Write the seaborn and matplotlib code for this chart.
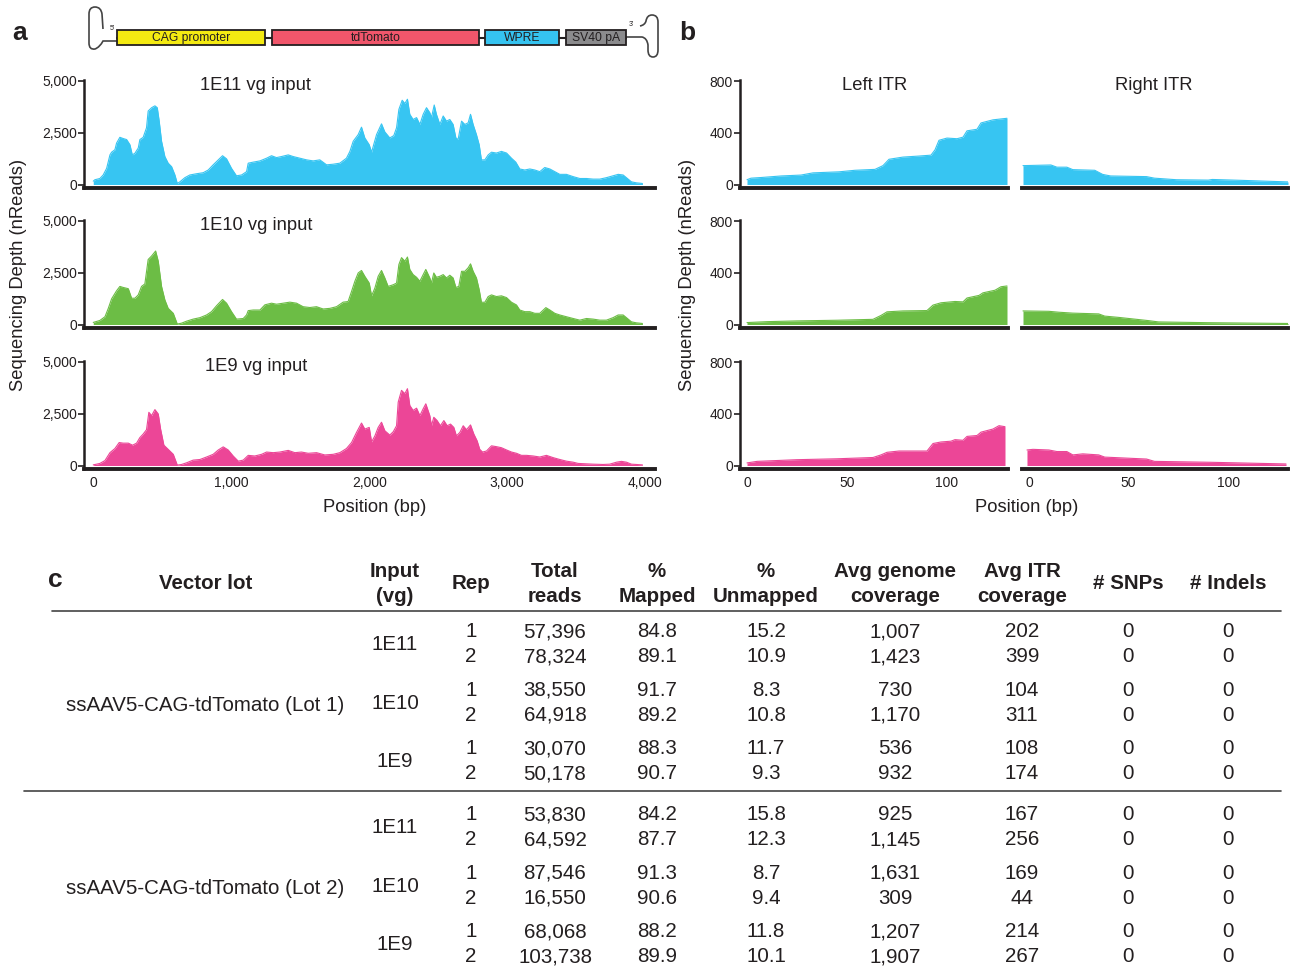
import seaborn as sns
import numpy as np
import pandas as pd
import matplotlib.pyplot as plt
from matplotlib.patches import Rectangle, PathPatch
from matplotlib.path import Path
from matplotlib.ticker import FuncFormatter

sns.set_style("white")
plt.rcParams['font.family'] = ['Liberation Sans', 'DejaVu Sans']

INK = '#231F20'
colors = ['#37C5F2', '#6CBD45', '#EC4697']
inputs = ['1E11', '1E10', '1E9']

# ---- panel a: genome coverage (position bp, depth reads) ----
pos_1e11 = [0, 12, 48, 72, 97, 121, 133, 157, 169, 193, 217, 242, 266, 283, 302, 326, 338, 362, 386, 398,
            423, 447, 464, 478, 495, 519, 543, 568, 592, 609, 628, 664, 700, 749, 797, 833, 869, 906, 937, 966,
            1002, 1038, 1075, 1111, 1123, 1159, 1208, 1256, 1292, 1328, 1364, 1413, 1449, 1497, 1546, 1594,
            1642, 1691, 1739, 1787, 1835, 1860, 1884, 1920, 1944, 1968, 2000,
            2017, 2053, 2089, 2113, 2149, 2178, 2198, 2215, 2239, 2258, 2277, 2294, 2318, 2343, 2367, 2391,
            2415, 2439, 2451, 2471, 2487, 2512, 2536, 2560, 2584, 2608, 2628, 2644, 2669, 2693, 2717, 2734,
            2753, 2777, 2797, 2813, 2838, 2862, 2886, 2922, 2958, 2995, 3031, 3062, 3091, 3127, 3164, 3200,
            3236, 3272, 3309, 3345, 3381, 3429, 3478, 3526, 3574, 3623, 3671, 3719, 3767, 3804, 3840, 3864,
            3900, 3936, 3980]
depth_1e11 = [160, 230, 290, 460, 780, 1430, 1560, 1680, 2000, 2280, 2220, 2170, 1920, 1430, 1510, 1760, 2170,
              2280, 2740, 3550, 3710, 3800, 3710, 3060, 2090, 1350, 1030, 860, 460, 50, 130, 330, 460, 520,
              570, 700, 950, 1190, 1390, 1240, 780, 420, 460, 620, 1030, 1080, 1140, 1270, 1390, 1300, 1350,
              1430, 1350, 1270, 1190, 1140, 1190, 950, 980, 1030, 1270, 1600, 2090, 2410, 2770, 2250, 1920,
              1560, 2410, 2930, 2540, 2250, 2360, 2740, 3630, 4070, 3910, 4120, 3390, 3140, 3230, 2900, 3390,
              3710, 3470, 3230, 3840, 3390, 2900, 3310, 3060, 3140, 2900, 2250, 2170, 3060, 2900, 2980, 3390,
              2900, 2410, 1920, 1190, 1190, 1430, 1560, 1520, 1600, 1520, 1270, 1080, 750, 700, 750, 700,
              620, 820, 750, 620, 490, 490, 380, 290, 290, 260, 260, 330, 420, 490, 460, 330,
              130, 80, 50]

pos_1e10 = [0, 48, 85, 109, 133, 169, 193, 217, 254, 278, 302, 326, 350, 374, 398, 423, 452, 471, 495, 519,
            543, 580, 609, 640, 676, 724, 773, 821, 857, 894, 937, 966, 1002, 1038, 1087, 1111, 1123, 1159,
            1208, 1244, 1292, 1328, 1377, 1425, 1473, 1521, 1570, 1618, 1666, 1715, 1763, 1811, 1847, 1872,
            1896, 1920, 1944, 1968, 2000,
            2017, 2041, 2065, 2089, 2113, 2137, 2174, 2198, 2215, 2234, 2258, 2277, 2294, 2318, 2343, 2367,
            2391, 2410, 2439, 2451, 2468, 2487, 2512, 2536, 2560, 2584, 2608, 2628, 2649, 2669, 2693, 2717,
            2734, 2753, 2777, 2797, 2813, 2838, 2862, 2886, 2922, 2958, 2995, 3031, 3067, 3091, 3127, 3164,
            3200, 3236, 3280, 3309, 3345, 3381, 3429, 3478, 3526, 3574, 3623, 3671, 3719, 3767, 3804, 3840,
            3864, 3900, 3936, 3980]
depth_1e10 = [100, 195, 375, 780, 1240, 1630, 1840, 1790, 1730, 1270, 1270, 1430, 1840, 1960, 3140, 3310,
              3550, 3060, 1840, 1190, 780, 540, 20, 65, 160, 260, 330, 460, 620, 910, 1210, 1030, 620, 260,
              290, 460, 670, 700, 700, 950, 1030, 980, 1030, 1080, 1030, 860, 820, 860, 750, 780, 860, 1080,
              1110, 1600, 2090, 2490, 2610, 2330, 2000,
              1385, 1760, 2330, 2610, 2250, 1840, 1920, 2000, 2900, 3230, 3060, 3260, 2660, 2410, 2280, 2090,
              2410, 2660, 2250, 2000, 2490, 2280, 2330, 2410, 2250, 2380, 2250, 1790, 1840, 2570, 2570, 2740,
              2930, 2570, 2250, 1680, 1075, 1075, 1350, 1430, 1350, 1385, 1300, 1075, 945, 700, 620, 620,
              540, 540, 815, 700, 540, 460, 375, 290, 210, 290, 260, 210, 210, 330, 460, 460,
              330, 130, 80, 50]

pos_1e9 = [0, 48, 85, 121, 157, 188, 217, 254, 285, 314, 338, 362, 386, 403, 423, 447, 471, 488, 512, 543,
           580, 609, 640, 676, 724, 773, 821, 869, 906, 942, 978, 1014, 1051, 1087, 1123, 1171, 1220, 1256,
           1304, 1352, 1413, 1461, 1509, 1558, 1618, 1678, 1739, 1787, 1835, 1872, 1908, 1944, 1968, 2000,
           2017, 2041, 2065, 2089, 2113, 2149, 2174, 2198, 2210, 2234, 2258, 2277, 2294, 2318, 2343, 2367,
           2391, 2410, 2439, 2451, 2468, 2492, 2516, 2541, 2565, 2589, 2613, 2632, 2657, 2681, 2705, 2734,
           2758, 2782, 2801, 2821, 2850, 2886, 2922, 2958, 2995, 3031, 3067, 3103, 3140, 3188, 3236, 3284,
           3333, 3381, 3429, 3478, 3514, 3574, 3623, 3695, 3743, 3792, 3828, 3864, 3900, 3980]
depth_1e9 = [30, 100, 240, 620, 820, 1110, 1080, 1080, 980, 1080, 1350, 1520, 1730, 2570, 2410, 2700, 2490,
             1760, 980, 780, 540, 20, 50, 130, 260, 290, 410, 540, 750, 900, 750, 460, 210, 260, 490, 460,
             540, 650, 620, 650, 730, 620, 650, 590, 620, 510, 540, 620, 820, 1110, 1600, 2050, 1760, 1840,
             1140, 1430, 1840, 2090, 1680, 1470, 1630, 1920, 3060, 3630, 3470, 3710, 2900, 2660, 2770, 2410,
             2740, 2980, 2410, 1920, 2330, 2170, 1920, 2170, 1920, 2000, 1840, 1430, 1600, 1920, 1730, 1960,
             1520, 1190, 780, 650, 700, 950, 910, 860, 750, 650, 590, 490, 490, 460, 410, 490,
             380, 290, 210, 160, 100, 80, 65, 50, 65, 160, 200, 160, 65, 30]

genome_pos = [pos_1e11, pos_1e10, pos_1e9]
genome_depth = [depth_1e11, depth_1e10, depth_1e9]

# ---- panel b: ITR coverage ----
left_pos = [[0, 2, 7, 17, 27, 33, 46, 54, 64, 68, 71, 78, 86, 92, 94, 96, 100, 105, 108, 110, 115, 117, 123, 130],
            [0, 10, 25, 45, 63, 67, 70, 78, 90, 93, 97, 104, 108, 110, 116, 118, 124, 127, 130],
            [0, 5, 25, 45, 63, 67, 70, 76, 90, 93, 97, 102, 104, 108, 110, 115, 117, 123, 126, 129]]
left_depth = [[37, 49, 54, 66, 73, 90, 98, 110, 117, 146, 195, 212, 220, 227, 268, 342, 359, 354, 366, 415, 427,
               476, 500, 512],
              [15, 22, 28, 33, 40, 70, 98, 105, 108, 150, 168, 178, 175, 205, 225, 245, 265, 292, 298],
              [20, 32, 45, 52, 62, 82, 102, 112, 112, 170, 182, 188, 200, 195, 225, 232, 258, 282, 308, 300]]
right_pos = [[-3, 11, 14, 19, 22, 33, 37, 41, 59, 63, 74, 90, 92, 107, 130],
             [-3, 10, 15, 22, 35, 38, 45, 60, 65, 90, 130],
             [-1, 2, 10, 14, 19, 22, 27, 35, 38, 59, 63, 91, 129]]
right_depth = [[146, 151, 134, 134, 115, 110, 78, 66, 61, 49, 37, 34, 39, 32, 20],
               [105, 102, 95, 88, 82, 65, 55, 30, 20, 14, 8],
               [120, 125, 120, 108, 108, 82, 90, 82, 65, 50, 32, 25, 12]]

# ---- panel c: table ----
lots = ['ssAAV5-CAG-tdTomato (Lot 1)', 'ssAAV5-CAG-tdTomato (Lot 2)']
reps = [1, 2]
total_reads = [57396, 78324, 38550, 64918, 30070, 50178, 53830, 64592, 87546, 16550, 68068, 103738]
pct_mapped = [84.8, 89.1, 91.7, 89.2, 88.3, 90.7, 84.2, 87.7, 91.3, 90.6, 88.2, 89.9]
pct_unmapped = [15.2, 10.9, 8.3, 10.8, 11.7, 9.3, 15.8, 12.3, 8.7, 9.4, 11.8, 10.1]
genome_cov = [1007, 1423, 730, 1170, 536, 932, 925, 1145, 1631, 309, 1207, 1907]
itr_cov = [202, 399, 104, 311, 108, 174, 167, 256, 169, 44, 214, 267]
snps = [0, 0, 0, 0, 0, 0, 0, 0, 0, 0, 0, 0]
indels = [0, 0, 0, 0, 0, 0, 0, 0, 0, 0, 0, 0]

cassette = ['CAG promoter', 'tdTomato', 'WPRE', 'SV40 pA']
cassette_x = [(117, 265), (272, 479), (485, 559), (566, 626)]
cassette_col = ['#F4EA12', '#F1566B', '#35C3F0', '#8B8B8D']

W, H = 1296, 968
fig = plt.figure(figsize=(W / 100, H / 100), dpi=100)


def axes_px(x0, y0, x1, y1):
    return fig.add_axes([x0 / W, 1 - y1 / H, (x1 - x0) / W, (y1 - y0) / H])


def style(ax, left=True):
    sns.despine(ax=ax, left=not left)
    ax.spines['bottom'].set_linewidth(2.8)
    ax.spines['bottom'].set_color(INK)
    ax.spines['left'].set_linewidth(1.8)
    ax.spines['left'].set_color(INK)
    ax.tick_params(axis='y', length=4, width=1.2, color=INK, labelsize=10, pad=1, labelcolor=INK, left=left)
    ax.tick_params(axis='x', length=0, labelsize=10, pad=5, labelcolor=INK)
    ax.set_xlabel('')
    ax.set_ylabel('')


def area(ax, x, y, c):
    df = pd.DataFrame({'pos': x, 'depth': y})
    ax.fill_between(df.pos, df.depth, 0, color=c, lw=0)
    sns.lineplot(data=df, x='pos', y='depth', color=c, lw=0.8, ax=ax)


comma = FuncFormatter(lambda v, p: f'{int(v):,}')
rows = [(80, 188), (220, 328), (361, 469)]

for i, (y0, y1) in enumerate(rows):
    # panel a
    ax = axes_px(84, y0, 655, y1)
    area(ax, genome_pos[i], genome_depth[i], colors[i])
    ax.set_xlim(-67, 4071)
    ax.set_ylim(-169, 5048)
    ax.set_yticks([0, 2500, 5000])
    ax.set_xticks([0, 1000, 2000, 3000, 4000])
    ax.yaxis.set_major_formatter(comma)
    ax.xaxis.set_major_formatter(comma)
    style(ax)
    if i < 2:
        ax.set_xticklabels([])
    ax.text(0.301, 0.95, f'{inputs[i]} vg input', transform=ax.transAxes, ha='center', va='center',
            fontsize=13.2, color=INK)

    # panel b left ITR
    axl = axes_px(740, y0, 1008, y1)
    area(axl, left_pos[i], left_depth[i], colors[i])
    axl.set_xlim(-3.5, 130.5)
    axl.set_ylim(-27, 808)
    axl.set_yticks([0, 400, 800])
    axl.set_xticks([0, 50, 100])
    style(axl)
    # panel b right ITR
    axr = axes_px(1022, y0, 1288, y1)
    area(axr, right_pos[i], right_depth[i], colors[i])
    axr.set_xlim(-3.5, 130)
    axr.set_ylim(-27, 808)
    axr.set_yticks([])
    axr.set_xticks([0, 50, 100])
    style(axr, left=False)
    if i < 2:
        axl.set_xticklabels([])
        axr.set_xticklabels([])
    if i == 0:
        fig.text(875 / W, 1 - 85 / H, 'Left ITR', ha='center', va='center', fontsize=13.2, color=INK)
        fig.text(1154 / W, 1 - 85 / H, 'Right ITR', ha='center', va='center', fontsize=13.2, color=INK)

fig.text(19 / W, 1 - 275 / H, 'Sequencing Depth (nReads)', rotation=90, ha='center', va='center',
         fontsize=13.2, color=INK)
fig.text(687 / W, 1 - 275 / H, 'Sequencing Depth (nReads)', rotation=90, ha='center', va='center',
         fontsize=13.2, color=INK)
fig.text(375 / W, 1 - 507 / H, 'Position (bp)', ha='center', va='center', fontsize=13.2, color=INK)
fig.text(1027 / W, 1 - 507 / H, 'Position (bp)', ha='center', va='center', fontsize=13.2, color=INK)

# cassette diagram
axd = axes_px(0, 0, W, 70)
axd.set_xlim(0, W)
axd.set_ylim(70, 0)
axd.axis('off')
axd.plot([117, 626], [37.5, 37.5], color=INK, lw=1.5, zorder=1)
for name, (x0, x1), c in zip(cassette, cassette_x, cassette_col):
    axd.add_patch(Rectangle((x0, 30), x1 - x0, 15, facecolor=c, edgecolor=INK, lw=1.3, zorder=2))
    axd.text((x0 + x1) / 2, 38, name, ha='center', va='center', fontsize=8.7, color=INK, zorder=3)
C3 = Path.CURVE3
left_hp = Path([(103, 29), (102, 14), (101, 7), (95, 7), (89, 7), (89, 14), (89, 43), (89, 50), (95, 49),
                (100, 47), (103, 41), (117, 41)],
               [Path.MOVETO, Path.LINETO, C3, C3, C3, C3, Path.LINETO, C3, C3, C3, C3, Path.LINETO])
right_hp = Path([(626, 37), (642, 37), (647, 38), (648, 45), (648, 50), (648, 57), (653, 57), (658, 57),
                 (658, 50), (658, 22), (658, 15), (652, 15), (647, 15), (646, 21), (645, 25), (640, 26)],
                [Path.MOVETO, Path.LINETO, C3, C3, Path.LINETO, C3, C3, C3, C3, Path.LINETO, C3, C3, C3, C3,
                 C3, C3])
for p in (left_hp, right_hp):
    axd.add_patch(PathPatch(p, facecolor='none', edgecolor='#444444', lw=1.2))
axd.text(112, 28, "5'", fontsize=5, ha='center', va='center', color=INK)
axd.text(631, 25, "3'", fontsize=5, ha='center', va='center', color=INK)

# panel letters
for letter, x, y in [('a', 20, 33), ('b', 687, 33), ('c', 55, 580)]:
    fig.text(x / W, 1 - y / H, letter, fontsize=19, fontweight='bold', ha='center', va='center', color=INK)

# table
axt = axes_px(0, 540, W, H)
axt.set_xlim(0, W)
axt.set_ylim(H, 540)
axt.axis('off')
fs = 14.8
headers = [(206, ['Vector lot']), (395, ['Input', '(vg)']), (471, ['Rep']), (555, ['Total', 'reads']),
           (657, ['%', 'Mapped']), (766, ['%', 'Unmapped']), (895, ['Avg genome', 'coverage']),
           (1022, ['Avg ITR', 'coverage']), (1128, ['# SNPs']), (1228, ['# Indels'])]
for x, lines in headers:
    ys = [584] if len(lines) == 1 else [572, 597]
    for t, y in zip(lines, ys):
        axt.text(x, y, t, ha='center', va='center', fontsize=fs, fontweight='bold', color=INK)
axt.plot([52, 1281], [611, 611], color='#444444', lw=1.2)
axt.plot([24, 1281], [791, 791], color='#444444', lw=1.2)

k = 0
for li, lot in enumerate(lots):
    base = 632 + li * 183
    axt.text(205, base + 74, lot, ha='center', va='center', fontsize=fs, color=INK)
    for gi, inp in enumerate(inputs):
        gy = base + gi * 58.5
        axt.text(395, gy + 13, inp, ha='center', va='center', fontsize=fs, color=INK)
        for ri, rep in enumerate(reps):
            y = gy + ri * 25
            vals = [(471, str(rep)), (555, f'{total_reads[k]:,}'), (657, f'{pct_mapped[k]:.1f}'),
                    (766, f'{pct_unmapped[k]:.1f}'), (895, f'{genome_cov[k]:,}'), (1022, f'{itr_cov[k]:,}'),
                    (1128, str(snps[k])), (1228, str(indels[k]))]
            for x, t in vals:
                axt.text(x, y, t, ha='center', va='center', fontsize=fs, color=INK)
            k += 1

fig.savefig('out.png', dpi=100)
